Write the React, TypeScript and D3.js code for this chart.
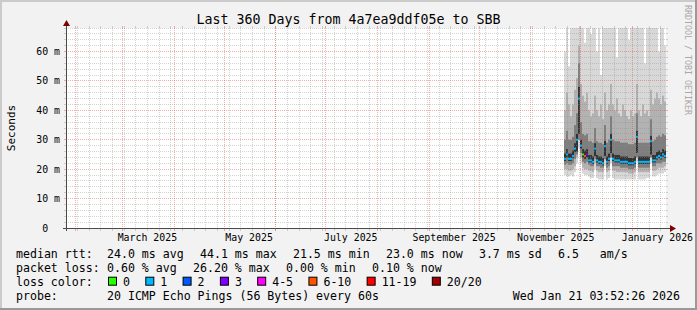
import React from "react";
import * as d3 from "d3";

const WIDTH = 697;
const HEIGHT = 310;

const TITLE = "Last 360 Days from 4a7ea9ddf05e to SBB";
const WATERMARK = "RRDTOOL / TOBI OETIKER";
const Y_TITLE = "Seconds";
const END_TIME = new Date(2026, 0, 21, 3, 52, 26);
const SPAN_DAYS = 360;
const Y_MAX = 68;
const Y_MAJOR_TICKS = [0, 10, 20, 30, 40, 50, 60];
const Y_TICK_LABELS = ["0\u00a0\u00a0", "10 m", "20 m", "30 m", "40 m", "50 m", "60 m"];
const Y_MINOR_STEP = 2;

// smoke columns (each column = 1.2 days) starting Nov 21 2025
const SERIES_START = new Date(2025, 10, 21, 0, 0, 0);
const STEP_HOURS = 28.8;

const medianRtt = [23.5, 25, 23.5, 23.5, 24.5, 27, 30, 44, 28, 25, 24.5, 25, 23, 23, 22.5, 27, 23, 22.5, 22.5, 22, 27.8, 22.5, 23.5, 30, 23.5, 23, 23, 23, 22.5, 22.5, 22.5, 22.5, 22, 22, 22, 22.5, 31, 22.5, 22.5, 22.5, 22.5, 22.5, 22.5, 29.5, 23, 23, 24, 24.5, 24, 25, 24.5];
const lossClass = [1, 1, 1, 1, 1, 1, 1, 1, 1, 0, 5, 3, 1, 1, 1, 1, 1, 1, 1, 1, 1, 1, 1, 1, 1, 1, 1, 1, 1, 1, 1, 1, 1, 1, 1, 1, 1, 1, 1, 1, 1, 1, 1, 1, 1, 1, 1, 1, 1, 1, 1];
const pingMin = [18, 17.5, 17.5, 18, 17.5, 19, 22, 27, 22, 18.5, 18, 18, 17.5, 17, 17, 20, 17, 16.5, 16.5, 16.5, 21, 16.5, 17, 22, 17, 16.5, 16.5, 16.5, 16.5, 16.5, 16.5, 16.5, 16.5, 16.5, 16.5, 16.5, 22.5, 16.5, 16.5, 16.5, 16.5, 17, 17, 22, 17.5, 17.5, 18, 18.5, 18.5, 18.5, 19];
const ping10 = [20, 20, 19.5, 19.5, 20, 21, 24, 30, 24, 20.5, 20, 20, 19.5, 19.5, 19, 22, 19.5, 19, 19, 19, 23, 19, 19.5, 24, 19.5, 19.5, 19, 19, 19, 19, 19, 19, 18.5, 18.5, 18.5, 19, 24.5, 19, 19, 19, 19, 19, 19, 24, 19.5, 19.5, 20, 20.5, 20.5, 20.5, 21];
const ping25 = [21.5, 22, 21.5, 21.5, 22, 23.5, 25, 30, 25.5, 22.5, 22, 22.5, 21.5, 21, 21, 23.5, 21, 21, 20.5, 20.5, 23.5, 20.5, 21, 24, 21, 21, 21, 21, 20.5, 20.5, 20.5, 20.5, 20, 20, 20, 20.5, 24, 20.5, 20.5, 20.5, 20.5, 20.5, 20.5, 24, 21, 21, 22, 22, 22, 22.5, 22.5];
const ping40 = [22.8, 24, 22.8, 22.8, 23.8, 25.8, 26, 32, 27, 24, 23.5, 24, 22.3, 22.3, 21.8, 24.5, 22.3, 21.8, 21.8, 21.3, 24.5, 21.8, 22.8, 25.5, 22.8, 22.3, 22.3, 22.3, 21.8, 21.8, 21.8, 21.8, 21.3, 21.3, 21.3, 21.8, 25.5, 21.8, 21.8, 21.8, 21.8, 21.8, 21.8, 25, 22.3, 22.3, 23.3, 23.8, 23.3, 24.3, 23.8];
const ping60 = [25.3, 26.8, 25.3, 25.3, 26.3, 28.8, 32, 48, 30, 26.8, 26.3, 26.8, 24.8, 24.8, 24.3, 28.8, 24.8, 24.3, 24.3, 23.8, 29.6, 24.3, 25.3, 32, 25.3, 24.8, 24.8, 24.8, 24.3, 24.3, 24.3, 24.3, 23.8, 23.8, 23.8, 24.3, 33, 24.3, 24.3, 24.3, 24.3, 24.3, 24.3, 31.3, 24.8, 24.8, 25.8, 26.3, 25.8, 26.8, 26.3];
const ping75 = [30, 33, 30, 30, 31, 35, 39, 56, 36, 32, 31.5, 32, 29.5, 29.5, 29, 34, 29.5, 29, 29, 28.5, 35, 29, 30, 38, 30, 29.5, 29.5, 29.5, 29, 29, 29, 29, 28.5, 28.5, 28.5, 29, 39, 29, 29, 29, 29, 29, 29, 37, 29.5, 30, 31, 31.5, 31, 32, 31.5];
const ping90 = [40, 46, 42, 38, 42, 47, 51, 62, 49, 45, 43, 46, 40, 38, 39, 45, 40, 38, 42, 37, 46, 40, 42, 49, 42, 40, 44, 39, 38, 42, 40, 38, 37, 40, 38, 39, 49, 40, 38, 42, 39, 40, 38, 47, 42, 44, 46, 44, 42, 45, 43];
const pingMax = [60, 80, 55, 80, 80, 80, 80, 80, 80, 80, 63, 80, 80, 66, 80, 80, 60, 80, 52, 80, 80, 80, 80, 80, 80, 80, 58, 80, 80, 80, 80, 80, 64, 80, 80, 80, 80, 80, 80, 80, 56, 80, 80, 80, 80, 80, 80, 60, 80, 80, 62];

const LOSS_LABELS = ["0", "1", "2", "3", "4-5", "6-10", "11-19", "20/20"];
const LOSS_COLORS = ["#26ff00", "#00b8ff", "#0059ff", "#7e00ff", "#ff00ff", "#ff5500", "#ff0000", "#a00000"];

const RTT_LEGEND = ["median rtt:", "24.0 ms avg", "44.1 ms max", "21.5 ms min", "23.0 ms now", "3.7 ms sd", "6.5\u00a0\u00a0\u00a0am/s"];
const LOSS_LEGEND = ["packet loss:", "0.60 % avg", "26.20 % max", "0.00 % min", "0.10 % now"];
const LOSS_COLOR_TITLE = "loss color:";
const PROBE_LEGEND = ["probe:", "20 ICMP Echo Pings (56 Bytes) every 60s"];
const TIMESTAMP = "Wed Jan 21 03:52:26 2026";

// layout
const MONO = "'DejaVu Sans Mono', monospace";
const PLOT = { left: 66, right: 666, top: 28, bottom: 228 };
const LEG_FS = 11.58;
const CW = LEG_FS * 0.602;
const GRID_COL = "rgba(143,143,143,0.38)";
const MGRID_COL = "rgba(224,80,80,0.45)";
const AXIS_COL = "#4a4a4a";
const ARROW_COL = "#800000";

const SMOKE_LAYERS: [number[], number[], string][] = [
  [pingMin, pingMax, "#d8d8d8"],
  [ping10, ping90, "#b2b2b2"],
  [ping25, ping75, "#7e7e7e"],
  [ping40, ping60, "#333333"],
];

const crisp = (v: number) => Math.floor(v) + 0.5;

export default function App() {
  const start = new Date(+END_TIME - SPAN_DAYS * 86400000);
  const x = d3.scaleTime().domain([start, END_TIME]).range([PLOT.left, PLOT.right]);
  const y = d3.scaleLinear().domain([0, Y_MAX]).range([PLOT.bottom, PLOT.top]);

  const stepMs = STEP_HOURS * 3600000;
  const colX = (i: number) => Math.round(x(new Date(+SERIES_START + i * stepMs)));

  const minorY = d3.range(Y_MINOR_STEP, Y_MAX + 0.001, Y_MINOR_STEP).filter((v) => v % 10 !== 0);
  const majorY = Y_MAJOR_TICKS.filter((v) => v > 0);
  const weeks = d3.timeSunday.range(start, END_TIME);
  const months = d3.timeMonth.range(start, END_TIME);
  const labelMonths = d3.timeMonth.every(2)!.range(start, END_TIME);
  const fmt = d3.timeFormat("%B %Y");

  const rowBase = [257.5, 271.6, 285.7, 299.8];
  const segX = (segs: string[]) => {
    const xs: number[] = [16];
    let cx = 107;
    for (let i = 1; i < segs.length; i++) {
      xs.push(cx);
      cx += segs[i].length * CW + 16.3;
    }
    return xs;
  };
  const rttX = segX(RTT_LEGEND);
  const lossX = segX(LOSS_LEGEND);
  const lossBoxX: number[] = [];
  {
    let cx = 108;
    LOSS_LABELS.forEach((l) => {
      lossBoxX.push(cx);
      cx += (l.length + 4.35) * CW;
    });
  }

  const hLine = (v: number, color: string, key: string) => {
    const yy = crisp(y(v));
    return (
      <g key={key}>
        <line x1={PLOT.left} x2={PLOT.right} y1={yy} y2={yy} stroke={color} strokeDasharray="1,1" />
        <line x1={PLOT.left - 2} x2={PLOT.left} y1={yy} y2={yy} stroke={color} />
        <line x1={PLOT.right} x2={PLOT.right + 2} y1={yy} y2={yy} stroke={color} />
      </g>
    );
  };
  const vLine = (d: Date, color: string, key: string) => {
    const xx = crisp(x(d));
    return (
      <g key={key}>
        <line x1={xx} x2={xx} y1={PLOT.top} y2={PLOT.bottom} stroke={color} strokeDasharray="1,1" />
        <line x1={xx} x2={xx} y1={PLOT.top - 2} y2={PLOT.top} stroke={color} />
        <line x1={xx} x2={xx} y1={PLOT.bottom} y2={PLOT.bottom + 3} stroke={color} />
      </g>
    );
  };

  const axisY = crisp(PLOT.bottom);
  const axisX = crisp(PLOT.left);

  return (
    <div style={{ position: "absolute", left: 0, top: 0 }}>
      <svg width={WIDTH} height={HEIGHT} style={{ display: "block" }} fontFamily={MONO}>
        <defs>
          <clipPath id="plotclip">
            <rect x={PLOT.left} y={PLOT.top} width={PLOT.right - PLOT.left} height={PLOT.bottom - PLOT.top} />
          </clipPath>
        </defs>
        <rect x={0} y={0} width={WIDTH} height={HEIGHT} fill="#f2f2f2" />
        <rect x={0} y={0} width={WIDTH} height={2} fill="#cbcbcb" />
        <rect x={0} y={0} width={2} height={HEIGHT} fill="#cbcbcb" />
        <rect x={0} y={HEIGHT - 2} width={WIDTH} height={2} fill="#999999" />
        <rect x={WIDTH - 2} y={0} width={2} height={HEIGHT} fill="#999999" />
        <rect x={PLOT.left} y={PLOT.top} width={PLOT.right - PLOT.left} height={PLOT.bottom - PLOT.top} fill="#ffffff" />

        <g clipPath="url(#plotclip)">
          {SMOKE_LAYERS.map(([lo, hi, col], li) => (
            <g key={"layer" + li} fill={col}>
              {lo.map((v, i) => {
                const x0 = colX(i);
                const x1 = colX(i + 1);
                const yTop = y(hi[i]);
                const yBot = y(v);
                return <rect key={i} x={x0} y={yTop} width={x1 - x0} height={yBot - yTop} />;
              })}
            </g>
          ))}
        </g>

        {minorY.map((v) => hLine(v, GRID_COL, "hy" + v))}
        {weeks.map((d, i) => vLine(d, GRID_COL, "wk" + i))}
        {majorY.map((v) => hLine(v, MGRID_COL, "my" + v))}
        {months.map((d, i) => vLine(d, MGRID_COL, "mo" + i))}

        <g clipPath="url(#plotclip)">
          {medianRtt.map((v, i) => {
            const x0 = colX(i);
            const x1 = colX(i + 1);
            return <rect key={"med" + i} x={x0} y={y(v) - 1} width={x1 - x0} height={2} fill={LOSS_COLORS[lossClass[i]]} />;
          })}
        </g>

        {/* axes */}
        <line x1={PLOT.left - 3} x2={PLOT.right + 4} y1={axisY} y2={axisY} stroke={AXIS_COL} />
        <line x1={axisX} x2={axisX} y1={PLOT.bottom + 3} y2={PLOT.top - 3} stroke={AXIS_COL} />
        <polygon
          points={`${PLOT.right + 4},${axisY - 3.5} ${PLOT.right + 10},${axisY} ${PLOT.right + 4},${axisY + 3.5}`}
          fill={ARROW_COL}
        />
        <polygon
          points={`${axisX - 3.5},${PLOT.top - 2} ${axisX},${PLOT.top - 8} ${axisX + 3.5},${PLOT.top - 2}`}
          fill={ARROW_COL}
        />

        {/* y labels */}
        {Y_MAJOR_TICKS.map((v, i) => (
          <text key={"yl" + v} x={60} y={crisp(y(v)) + 3.8} fontSize={9.9} textAnchor="end" fill="#000">
            {Y_TICK_LABELS[i]}
          </text>
        ))}
        {/* x labels */}
        {labelMonths.map((d, i) => (
          <text key={"xl" + i} x={x(new Date(+d + 15 * 86400000))} y={241} fontSize={9.9} textAnchor="middle" fill="#000">
            {fmt(d)}
          </text>
        ))}

        <text x={WIDTH / 2} y={24} fontSize={13.3} textAnchor="middle" fill="#000">
          {TITLE}
        </text>
        <text transform={`translate(15, ${(PLOT.top + PLOT.bottom) / 2}) rotate(-90)`} fontSize={11} textAnchor="middle" fill="#000">
          {Y_TITLE}
        </text>
        <text transform={`translate(685, 5) rotate(90)`} fontSize={8.3} fill="#a8a8a8">
          {WATERMARK}
        </text>

        {/* legend */}
        <g fontSize={LEG_FS} fill="#000">
          {RTT_LEGEND.map((s, i) => (
            <text key={"r" + i} x={rttX[i]} y={rowBase[0]}>{s}</text>
          ))}
          {LOSS_LEGEND.map((s, i) => (
            <text key={"l" + i} x={lossX[i]} y={rowBase[1]}>{s}</text>
          ))}
          <text x={16} y={rowBase[2]}>{LOSS_COLOR_TITLE}</text>
          {LOSS_LABELS.map((l, i) => (
            <g key={"lc" + i}>
              <rect x={lossBoxX[i] + 0.5} y={rowBase[2] - 8.5} width={8} height={8} fill={LOSS_COLORS[i]} stroke="#000" />
              <text x={lossBoxX[i] + 15} y={rowBase[2]}>{l}</text>
            </g>
          ))}
          <text x={16} y={rowBase[3]}>{PROBE_LEGEND[0]}</text>
          <text x={107} y={rowBase[3]}>{PROBE_LEGEND[1]}</text>
          <text x={680} y={rowBase[3]} textAnchor="end">{TIMESTAMP}</text>
        </g>
      </svg>
    </div>
  );
}
